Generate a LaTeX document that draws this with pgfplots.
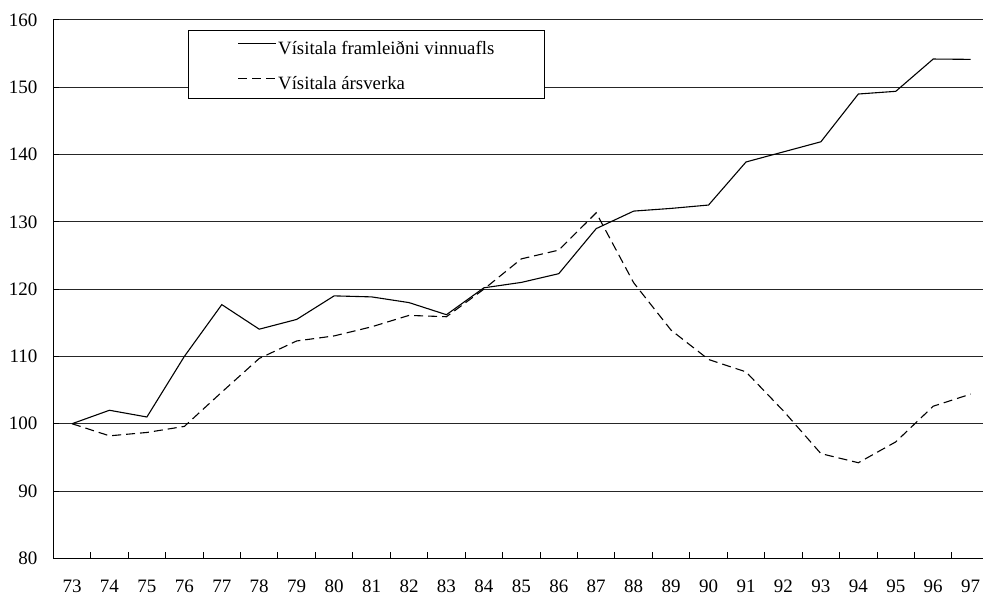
\documentclass[border=0pt]{standalone}
\usepackage{pgfplots}
\pgfplotsset{compat=1.18}
\usepackage{fontspec}
\setmainfont{Liberation Serif}
\begin{document}
\begin{tikzpicture}
\begin{axis}[
  name=ax,
  scale only axis,
  width=464.85pt, height=269.15pt,
  xmin=-0.5, xmax=24.33,
  ymin=80, ymax=160,
  axis x line*=bottom, axis y line*=left,
  axis line style={black, line width=0.5pt},
  ytick={80,90,...,160},
  ymajorgrids,
  grid style={black!85, line width=0.5pt},
  xtick={0,...,24},
  xticklabels={73,74,75,76,77,78,79,80,81,82,83,84,85,86,87,88,89,90,91,92,93,94,95,96,97},
  minor xtick={0.5,1.5,...,23.5},
  major x tick style={draw=none},
  tick align=inside,
  major tick length=3pt, minor tick length=3pt,
  tick style={black, line width=0.5pt},
  /pgf/number format/assume math mode=true,
  tick label style={font=\fontsize{9.5}{11}\selectfont, inner sep=0pt},
  yticklabel style={anchor=east, xshift=-7.8pt},
  xticklabel style={anchor=north, yshift=-10.8pt},
  legend image code/.code={\draw[#1] (0pt,1.9pt) -- (19.15pt,1.9pt);},
  legend style={at={(axis description cs:0.1452,0.9807)}, anchor=north west,
    draw=black, fill=white, line width=0.5pt,
    inner xsep=24.4pt, inner ysep=3.3pt,
    row sep=8pt, column sep=0pt,
    font=\fontsize{9.4}{11}\selectfont,
    nodes={inner sep=0.6pt, text height=8pt, text depth=0.4pt}},
  legend cell align=left,
]
\addplot[black, line width=0.55pt] coordinates {
(0,100) (1,102.0) (2,101.0) (3,110.0) (4,117.7) (5,114.05) (6,115.5) (7,119.0)
(8,118.85) (9,118.0) (10,116.2) (11,120.2) (12,121.0) (13,122.3) (14,129.0)
(15,131.6) (16,132.0) (17,132.5) (18,138.9) (19,140.4) (20,141.9) (21,149.0)
(22,149.4) (23,154.2) (24,154.15)};
\addlegendentry{Vísitala framleiðni vinnuafls}
\addplot[black, line width=0.55pt, dash pattern=on 4.5pt off 2.5pt] coordinates {
(0,100) (1,98.2) (2,98.7) (3,99.6) (4,104.7) (5,109.7) (6,112.3) (7,113.05)
(8,114.4) (9,116.1) (10,115.9) (11,120.0) (12,124.5) (13,125.8) (14,131.35)
(15,120.95) (16,113.9) (17,109.55) (18,107.7) (19,101.9) (20,95.56) (21,94.2)
(22,97.3) (23,102.6) (24,104.4)};
\addlegendentry{Vísitala ársverka}
\end{axis}
\pgfresetboundingbox
\path[use as bounding box] ([xshift=-26.65pt,yshift=-18.85pt]ax.south west) rectangle ([yshift=10pt]ax.north east);
\end{tikzpicture}
\end{document}
